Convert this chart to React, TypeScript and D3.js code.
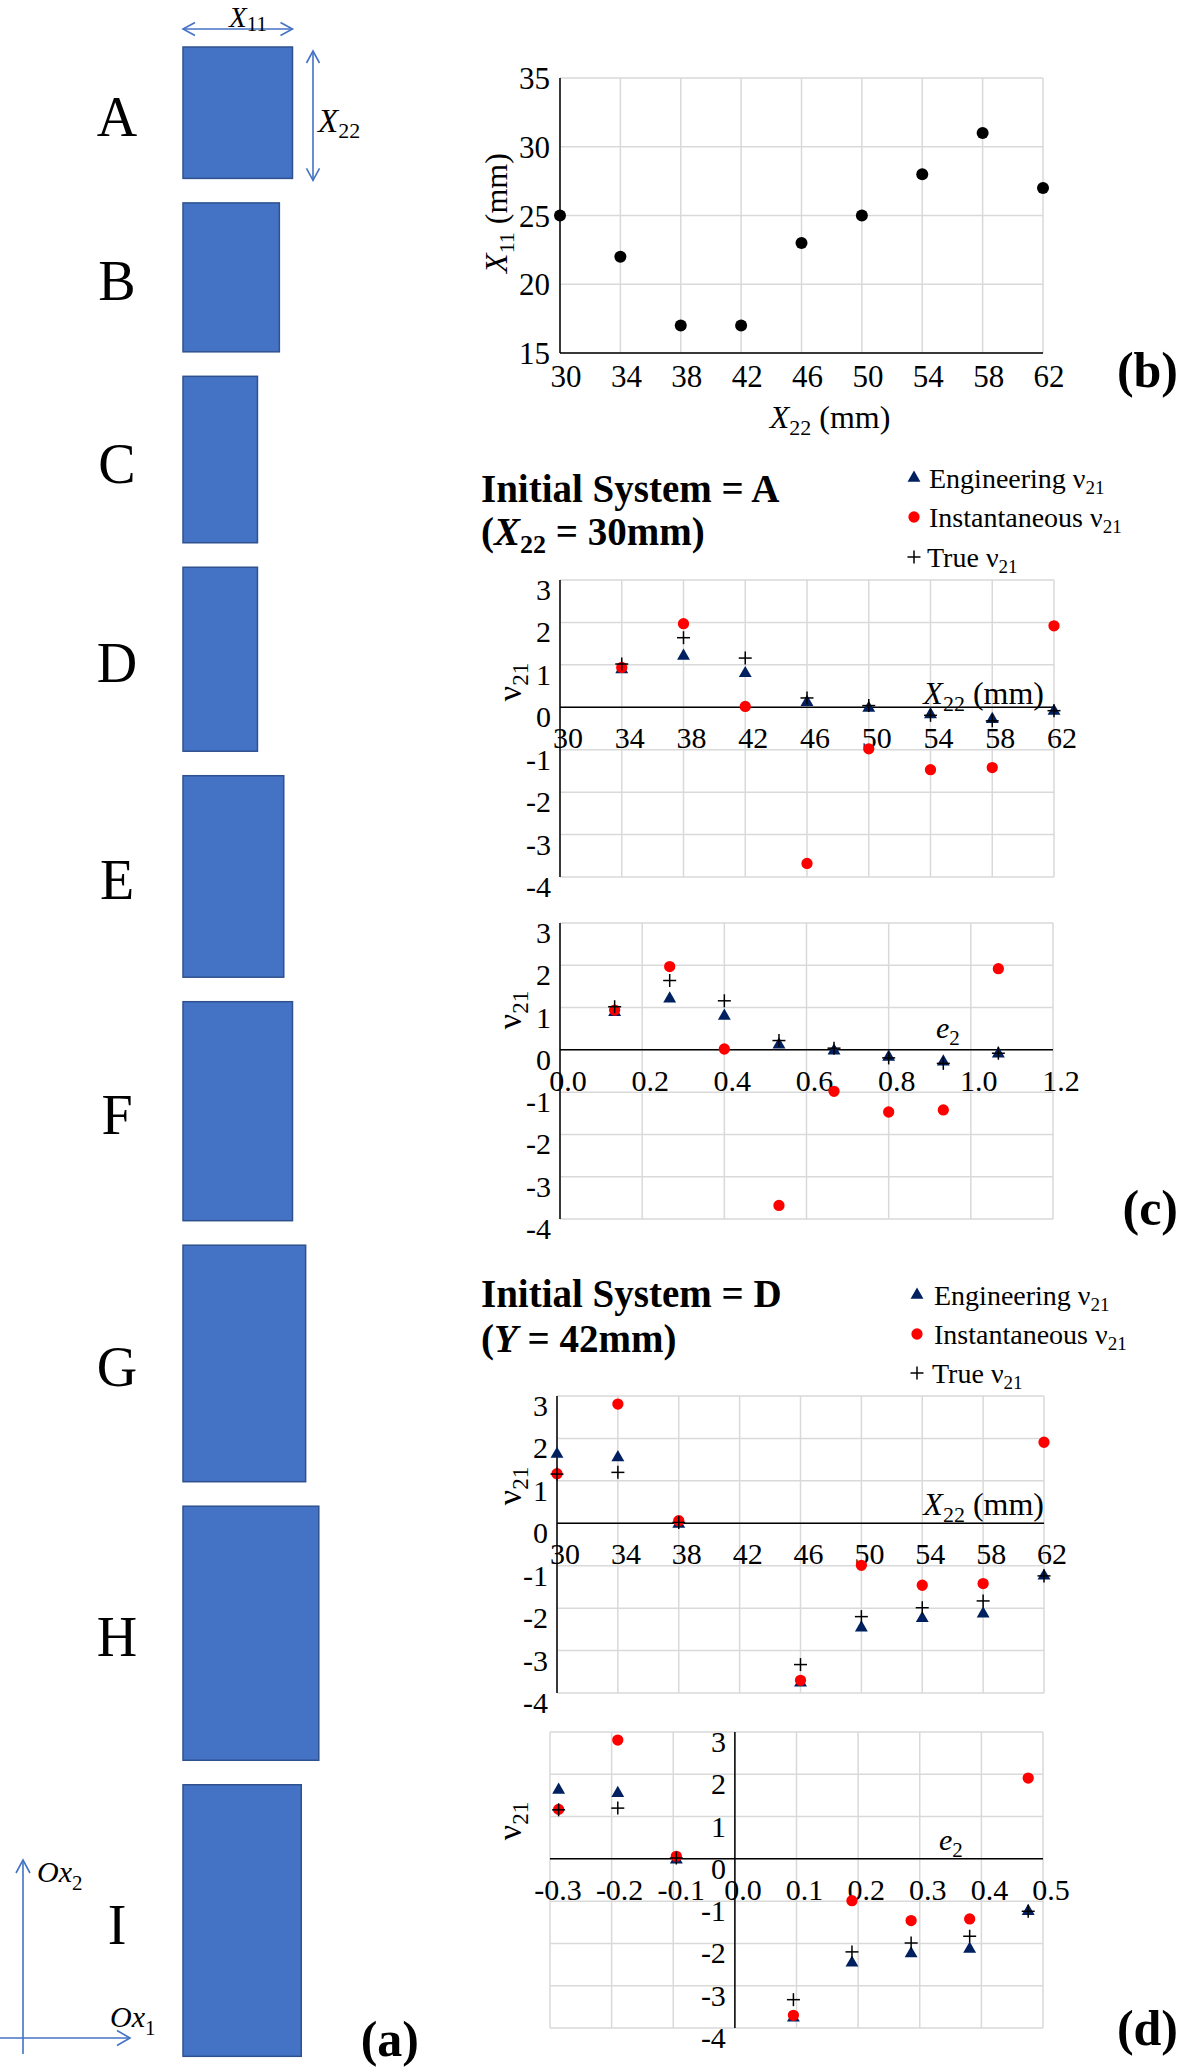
import React from 'react';
import * as d3 from 'd3';

// systems A..I and their dimensions (mm)
const systems = ['A', 'B', 'C', 'D', 'E', 'F', 'G', 'H', 'I'];
const x22mm = [30, 34, 38, 42, 46, 50, 54, 58, 62];
const x11mm = [25, 22, 17, 17, 23, 25, 28, 31, 27];

// tick labels
const x22Ticks = [30, 34, 38, 42, 46, 50, 54, 58, 62];
const x11Ticks = [15, 20, 25, 30, 35];
const nuTicks = [3, 2, 1, 0, -1, -2, -3, -4];
const e2TicksA = [0, 0.2, 0.4, 0.6, 0.8, 1.0, 1.2];
const e2TicksD = [-0.3, -0.2, -0.1, 0, 0.1, 0.2, 0.3, 0.4, 0.5];

// initial system A
const x22A = [34, 38, 42, 46, 50, 54, 58, 62];
const e2A = [0.133, 0.267, 0.4, 0.533, 0.667, 0.8, 0.933, 1.067];
const engA = [0.89, 1.21, 0.8, 0.12, -0.02, -0.17, -0.28, -0.09];
const instA = [0.94, 1.97, 0.02, -3.68, -0.98, -1.47, -1.42, 1.92];
const trueA = [1.02, 1.64, 1.16, 0.22, 0.04, -0.19, -0.32, -0.08];

// initial system D
const x22D = [30, 34, 38, 46, 50, 54, 58, 62];
const e2D = [-0.286, -0.19, -0.095, 0.095, 0.19, 0.286, 0.381, 0.476];
const engD = [1.63, 1.55, -0.02, -3.76, -2.46, -2.24, -2.13, -1.24];
const instD = [1.17, 2.81, 0.06, -3.7, -0.99, -1.46, -1.42, 1.91];
const trueD = [1.16, 1.2, 0.02, -3.33, -2.2, -1.99, -1.83, -1.24];

const FONT = "'Liberation Serif', 'Times New Roman', serif";
const BLUE = '#4472C4';
const NAVY = '#002060';
const RED = '#FF0000';
const GRID = '#d9d9d9';

const triPath = d3.symbol(d3.symbolTriangle, 72)();
const dotPath = d3.symbol(d3.symbolCircle, 100)();

const Plus = ({ x, y, s = 6.5 }) => (
  <g stroke="#000" strokeWidth={1.5}>
    <line x1={x - s} x2={x + s} y1={y} y2={y} />
    <line x1={x} x2={x} y1={y - s} y2={y + s} />
  </g>
);

const Nu = ({ size = 30 }) => (
  <>
    ν<tspan fontSize={size * 0.68} dy={size * 0.22}>21</tspan>
  </>
);

// open chevron arrow head at (x,y) pointing in direction ang (radians)
const head = (x, y, ang, len = 12, half = 6.5) => {
  const bx = x - len * Math.cos(ang), by = y - len * Math.sin(ang);
  const px = -Math.sin(ang) * half, py = Math.cos(ang) * half;
  return `M${bx + px},${by + py}L${x},${y}L${bx - px},${by - py}`;
};

const PanelA = () => {
  const mm = d3.scaleLinear().domain([0, 1]).range([0, 4.38]);
  const left = 183;
  let cursor = 47;
  const boxes = x22mm.map((h, i) => {
    const top = cursor;
    cursor += mm(h) + 24.5;
    return { name: systems[i], top, h: mm(h), w: mm(x11mm[i]) };
  });
  const a = boxes[0];
  const ay = 29;
  const vx = 313;
  return (
    <g fontFamily={FONT}>
      {boxes.map(b => (
        <g key={b.name}>
          <rect x={left} y={b.top} width={b.w} height={b.h} fill={BLUE} stroke="#2F528F" strokeWidth={1.5} />
          <text x={117} y={b.top + b.h / 2 + 23} fontSize={56} textAnchor="middle">{b.name}</text>
        </g>
      ))}
      {/* X11 / X22 dimension arrows */}
      <g stroke={BLUE} strokeWidth={1.6} fill="none">
        <line x1={left} x2={left + a.w} y1={ay} y2={ay} />
        <path d={head(left, ay, Math.PI)} />
        <path d={head(left + a.w, ay, 0)} />
        <line x1={vx} x2={vx} y1={a.top + 4} y2={a.top + a.h + 2} />
        <path d={head(vx, a.top + 4, -Math.PI / 2)} />
        <path d={head(vx, a.top + a.h + 2, Math.PI / 2)} />
      </g>
      <text x={229} y={27} fontSize={29}>
        <tspan fontStyle="italic">X</tspan><tspan fontSize={21} dy={4}>11</tspan>
      </text>
      <text x={318} y={132} fontSize={33}>
        <tspan fontStyle="italic">X</tspan><tspan fontSize={22} dy={6}>22</tspan>
      </text>
      {/* coordinate frame */}
      <g stroke={BLUE} strokeWidth={1.6} fill="none">
        <line x1={23} x2={23} y1={2054} y2={1860} />
        <path d={head(23, 1860, -Math.PI / 2, 13, 7)} />
        <line x1={0} x2={130} y1={2038} y2={2038} />
        <path d={head(130, 2038, 0, 13, 7.5)} />
      </g>
      <text x={37} y={1882} fontSize={30} fontStyle="italic">
        Ox<tspan fontStyle="normal" fontSize={21} dy={8}>2</tspan>
      </text>
      <text x={110} y={2027} fontSize={30} fontStyle="italic">
        Ox<tspan fontStyle="normal" fontSize={21} dy={8}>1</tspan>
      </text>
      <text x={419} y={2056} fontSize={50} fontWeight="bold" textAnchor="end">(a)</text>
    </g>
  );
};

const PanelB = () => {
  const x = d3.scaleLinear().domain([30, 62]).range([560, 1043]);
  const y = d3.scaleLinear().domain([15, 35]).range([353, 78]);
  return (
    <g fontFamily={FONT}>
      {x22Ticks.map(t => (
        <line key={'gx' + t} x1={x(t)} x2={x(t)} y1={y(35)} y2={y(15)} stroke={GRID} strokeWidth={1.5} />
      ))}
      {x11Ticks.map(t => (
        <line key={'gy' + t} x1={x(30)} x2={x(62)} y1={y(t)} y2={y(t)} stroke={GRID} strokeWidth={1.5} />
      ))}
      <line x1={x(30)} x2={x(30)} y1={y(35)} y2={y(15)} stroke="#000" strokeWidth={1.5} />
      <line x1={x(30)} x2={x(62)} y1={y(15)} y2={y(15)} stroke="#000" strokeWidth={1.5} />
      {x11Ticks.map(t => (
        <text key={'ly' + t} x={550} y={y(t) + 11} fontSize={31} textAnchor="end">{t}</text>
      ))}
      {x22Ticks.map(t => (
        <text key={'lx' + t} x={x(t) + 6} y={387} fontSize={31} textAnchor="middle">{t}</text>
      ))}
      {x22mm.map((v, i) => (
        <circle key={'p' + i} cx={x(v)} cy={y(x11mm[i])} r={6} fill="#000" />
      ))}
      <text x={830} y={428} fontSize={32} textAnchor="middle">
        <tspan fontStyle="italic">X</tspan><tspan fontSize={22} dy={7}>22</tspan><tspan dy={-7}> (mm)</tspan>
      </text>
      <text transform="translate(507,213) rotate(-90)" fontSize={32} textAnchor="middle">
        <tspan fontStyle="italic">X</tspan><tspan fontSize={22} dy={7}>11</tspan><tspan dy={-7}> (mm)</tspan>
      </text>
      <text x={1178} y={387} fontSize={50} fontWeight="bold" textAnchor="end">(b)</text>
    </g>
  );
};

const NuPlot = ({ left, right, top, bottom, xDomain, xTicks, xFmt, axisAt, xs, eng, inst, tru, nuY, title }) => {
  const x = d3.scaleLinear().domain(xDomain).range([left, right]);
  const y = d3.scaleLinear().domain([-4, 3]).range([bottom, top]);
  const ax = x(axisAt);
  const y0 = y(0);
  return (
    <g fontFamily={FONT}>
      {xTicks.map(t => (
        <line key={'gx' + t} x1={x(t)} x2={x(t)} y1={top} y2={bottom} stroke={GRID} strokeWidth={1.5} />
      ))}
      {nuTicks.map(t => (
        <line key={'gy' + t} x1={left} x2={right} y1={y(t)} y2={y(t)} stroke={GRID} strokeWidth={1.5} />
      ))}
      <line x1={ax} x2={ax} y1={top} y2={bottom} stroke="#000" strokeWidth={1.5} />
      <line x1={left} x2={right} y1={y0} y2={y0} stroke="#000" strokeWidth={1.5} />
      {nuTicks.map(t => (
        <text key={'ly' + t} x={ax - 9} y={y(t) + 20} fontSize={30} textAnchor="end">{t}</text>
      ))}
      {xTicks.map(t => (
        <text key={'lx' + t} x={x(t) + 8} y={y0 + 41} fontSize={30} textAnchor="middle">{xFmt(t)}</text>
      ))}
      {title}
      <text transform={`translate(521,${nuY}) rotate(-90)`} fontSize={34} textAnchor="middle">
        <Nu size={34} />
      </text>
      {xs.map((v, i) => (
        <path key={'e' + i} d={triPath} transform={`translate(${x(v)},${y(eng[i])})`} fill={NAVY} />
      ))}
      {xs.map((v, i) => (
        <path key={'i' + i} d={dotPath} transform={`translate(${x(v)},${y(inst[i])})`} fill={RED} />
      ))}
      {xs.map((v, i) => (
        <Plus key={'t' + i} x={x(v)} y={y(tru[i])} />
      ))}
    </g>
  );
};

const Legend = ({ mx, tx, rows }) => (
  <g fontFamily={FONT} fontSize={28}>
    <path d={triPath} transform={`translate(${mx},${rows[0]})`} fill={NAVY} />
    <text x={tx} y={rows[0] + 10}>Engineering <Nu size={28} /></text>
    <path d={dotPath} transform={`translate(${mx},${rows[1]})`} fill={RED} />
    <text x={tx} y={rows[1] + 10}>Instantaneous <Nu size={28} /></text>
    <Plus x={mx} y={rows[2]} />
    <text x={tx - 2} y={rows[2] + 10}>True <Nu size={28} /></text>
  </g>
);

const x22Title = (rx, by) => (
  <text x={rx} y={by} fontSize={32} textAnchor="end">
    <tspan fontStyle="italic">X</tspan><tspan fontSize={22} dy={7}>22</tspan><tspan dy={-7}> (mm)</tspan>
  </text>
);

const e2Title = (lx, by) => (
  <text x={lx} y={by} fontSize={30}>
    <tspan fontStyle="italic">e</tspan><tspan fontSize={21} dy={7}>2</tspan>
  </text>
);

const fmtInt = t => String(t);
const fmt1 = t => t.toFixed(1);

export default function App() {
  return (
    <svg width={1181} height={2067} viewBox="0 0 1181 2067"
      style={{ position: 'absolute', left: 0, top: 0, background: '#fff' }}>
      <PanelA />
      <PanelB />

      {/* (c) initial system A */}
      <g fontFamily={FONT} fontWeight="bold" fontSize={39}>
        <text x={481} y={502}>Initial System = A</text>
        <text x={481} y={545}>
          (<tspan fontStyle="italic">X</tspan><tspan fontSize={26} dy={8}>22</tspan><tspan dy={-8}> = 30mm)</tspan>
        </text>
      </g>
      <Legend mx={914} tx={929} rows={[478, 517, 557]} />
      <NuPlot left={560} right={1054} top={580} bottom={877} xDomain={[30, 62]} xTicks={x22Ticks}
        xFmt={fmtInt} axisAt={30} xs={x22A} eng={engA} inst={instA} tru={trueA} nuY={682}
        title={x22Title(1044, 704)} />
      <NuPlot left={560} right={1053} top={923} bottom={1219} xDomain={[0, 1.2]} xTicks={e2TicksA}
        xFmt={fmt1} axisAt={0} xs={e2A} eng={engA} inst={instA} tru={trueA} nuY={1010}
        title={e2Title(936, 1038)} />
      <text x={1178} y={1225} fontFamily={FONT} fontSize={50} fontWeight="bold" textAnchor="end">(c)</text>

      {/* (d) initial system D */}
      <g fontFamily={FONT} fontWeight="bold" fontSize={39}>
        <text x={481} y={1307}>Initial System = D</text>
        <text x={481} y={1352}>
          (<tspan fontStyle="italic">Y</tspan> = 42mm)
        </text>
      </g>
      <Legend mx={917} tx={934} rows={[1295, 1334, 1373]} />
      <NuPlot left={557} right={1044} top={1396} bottom={1693} xDomain={[30, 62]} xTicks={x22Ticks}
        xFmt={fmtInt} axisAt={30} xs={x22D} eng={engD} inst={instD} tru={trueD} nuY={1486}
        title={x22Title(1044, 1515)} />
      <NuPlot left={550} right={1043} top={1732} bottom={2028} xDomain={[-0.3, 0.5]} xTicks={e2TicksD}
        xFmt={fmt1} axisAt={0} xs={e2D} eng={engD} inst={instD} tru={trueD} nuY={1821}
        title={e2Title(939, 1850)} />
      <text x={1178} y={2045} fontFamily={FONT} fontSize={50} fontWeight="bold" textAnchor="end">(d)</text>
    </svg>
  );
}
